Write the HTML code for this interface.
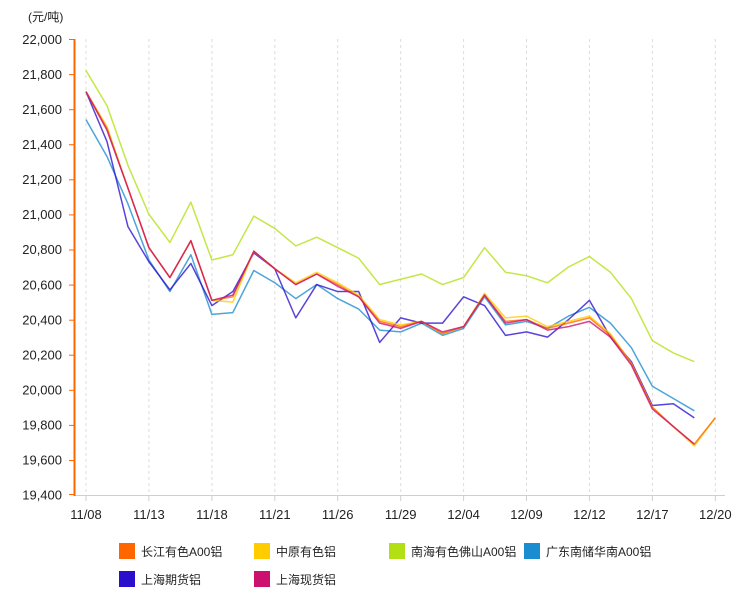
<!DOCTYPE html>
<html><head><meta charset="utf-8"><style>
html,body{margin:0;padding:0;background:#fff;}
svg{display:block;}
text{font-family:"Liberation Sans","Noto Sans CJK SC",sans-serif;fill:#222;}
</style></head><body>
<svg width="745" height="595" viewBox="0 0 745 595" xmlns="http://www.w3.org/2000/svg">
<text x="28" y="21" font-size="12">(元/吨)</text>
<g stroke="#dcdcdc" stroke-width="1" stroke-dasharray="3,3">
<line x1="86" y1="39" x2="86" y2="495"/><line x1="148.9" y1="39" x2="148.9" y2="495"/><line x1="211.9" y1="39" x2="211.9" y2="495"/><line x1="274.8" y1="39" x2="274.8" y2="495"/><line x1="337.7" y1="39" x2="337.7" y2="495"/><line x1="400.7" y1="39" x2="400.7" y2="495"/><line x1="463.6" y1="39" x2="463.6" y2="495"/><line x1="526.5" y1="39" x2="526.5" y2="495"/><line x1="589.4" y1="39" x2="589.4" y2="495"/><line x1="652.4" y1="39" x2="652.4" y2="495"/><line x1="715.3" y1="39" x2="715.3" y2="495"/>
</g>
<line x1="75" y1="495.5" x2="725" y2="495.5" stroke="#cfcfcf" stroke-width="1"/>
<g stroke="#cfcfcf" stroke-width="1">
<line x1="86" y1="495" x2="86" y2="501"/><line x1="148.9" y1="495" x2="148.9" y2="501"/><line x1="211.9" y1="495" x2="211.9" y2="501"/><line x1="274.8" y1="495" x2="274.8" y2="501"/><line x1="337.7" y1="495" x2="337.7" y2="501"/><line x1="400.7" y1="495" x2="400.7" y2="501"/><line x1="463.6" y1="495" x2="463.6" y2="501"/><line x1="526.5" y1="495" x2="526.5" y2="501"/><line x1="589.4" y1="495" x2="589.4" y2="501"/><line x1="652.4" y1="495" x2="652.4" y2="501"/><line x1="715.3" y1="495" x2="715.3" y2="501"/>
</g>
<line x1="74.5" y1="39" x2="74.5" y2="496" stroke="#ff6600" stroke-width="2"/>
<g stroke="#ff6600" stroke-width="1">
<line x1="69" y1="39.5" x2="74" y2="39.5"/><line x1="69" y1="74.6" x2="74" y2="74.6"/><line x1="69" y1="109.7" x2="74" y2="109.7"/><line x1="69" y1="144.7" x2="74" y2="144.7"/><line x1="69" y1="179.8" x2="74" y2="179.8"/><line x1="69" y1="214.9" x2="74" y2="214.9"/><line x1="69" y1="250" x2="74" y2="250"/><line x1="69" y1="285.1" x2="74" y2="285.1"/><line x1="69" y1="320.2" x2="74" y2="320.2"/><line x1="69" y1="355.2" x2="74" y2="355.2"/><line x1="69" y1="390.3" x2="74" y2="390.3"/><line x1="69" y1="425.4" x2="74" y2="425.4"/><line x1="69" y1="460.5" x2="74" y2="460.5"/><line x1="69" y1="494.5" x2="74" y2="494.5"/>
</g>
<g font-size="13" text-anchor="end">
<text x="62" y="44">22,000</text><text x="62" y="79">21,800</text><text x="62" y="114">21,600</text><text x="62" y="149">21,400</text><text x="62" y="184">21,200</text><text x="62" y="219">21,000</text><text x="62" y="254">20,800</text><text x="62" y="289.5">20,600</text><text x="62" y="324.5">20,400</text><text x="62" y="359.5">20,200</text><text x="62" y="394.5">20,000</text><text x="62" y="429.5">19,800</text><text x="62" y="464.5">19,600</text><text x="62" y="499.5">19,400</text>
</g>
<g font-size="13" text-anchor="middle">
<text x="86" y="519">11/08</text><text x="148.9" y="519">11/13</text><text x="211.9" y="519">11/18</text><text x="274.8" y="519">11/21</text><text x="337.7" y="519">11/26</text><text x="400.7" y="519">11/29</text><text x="463.6" y="519">12/04</text><text x="526.5" y="519">12/09</text><text x="589.4" y="519">12/12</text><text x="652.4" y="519">12/17</text><text x="715.3" y="519">12/20</text>
</g>
<g transform="translate(86,3897.47) scale(20.977,-0.175385)" fill="none" stroke-width="1.5" stroke-linejoin="round" stroke-opacity="0.78">
<polyline vector-effect="non-scaling-stroke" stroke="#b3e014" points="0,21820 1,21620 2,21280 3,21000 4,20840 5,21070 6,20740 7,20770 8,20990 9,20920 10,20820 11,20870 12,20810 13,20750 14,20600 15,20630 16,20660 17,20600 18,20640 19,20810 20,20670 21,20650 22,20610 23,20700 24,20760 25,20670 26,20520 27,20280 28,20210 29,20160"/>
<polyline vector-effect="non-scaling-stroke" stroke="#1a8cd0" points="0,21540 1,21330 2,21060 3,20740 4,20560 5,20770 6,20430 7,20440 8,20680 9,20610 10,20520 11,20600 12,20520 13,20460 14,20340 15,20330 16,20380 17,20310 18,20350 19,20530 20,20370 21,20390 22,20350 23,20420 24,20470 25,20380 26,20240 27,20020 28,19950 29,19880"/>
<polyline vector-effect="non-scaling-stroke" stroke="#2a10cc" points="0,21700 1,21415 2,20930 3,20730 4,20570 5,20720 6,20480 7,20560 8,20780 9,20690 10,20410 11,20600 12,20560 13,20560 14,20270 15,20410 16,20380 17,20380 18,20530 19,20480 20,20310 21,20330 22,20300 23,20400 24,20510 25,20300 26,20160 27,19910 28,19920 29,19840"/>
<polyline vector-effect="non-scaling-stroke" stroke="#ffcc00" points="0,21700 1,21500 2,21150 3,20810 4,20640 5,20850 6,20510 7,20500 8,20790 9,20690 10,20610 11,20670 12,20610 13,20540 14,20400 15,20370 16,20390 17,20320 18,20360 19,20550 20,20410 21,20420 22,20360 23,20390 24,20420 25,20320 26,20150 27,19900 28,19790 29,19680 30,19840"/>
<polyline vector-effect="non-scaling-stroke" stroke="#ff6600" points="0,21700 1,21490 2,21150 3,20810 4,20640 5,20850 6,20510 7,20530 8,20790 9,20690 10,20600 11,20660 12,20600 13,20530 14,20390 15,20360 16,20390 17,20320 18,20360 19,20540 20,20390 21,20400 22,20350 23,20380 24,20410 25,20310 26,20150 27,19900 28,19790 29,19690 30,19840"/>
<polyline vector-effect="non-scaling-stroke" stroke="#cc1070" points="0,21700 1,21480 2,21150 3,20810 4,20640 5,20850 6,20510 7,20540 8,20790 9,20690 10,20600 11,20660 12,20590 13,20530 14,20380 15,20350 16,20390 17,20330 18,20360 19,20540 20,20380 21,20400 22,20340 23,20360 24,20390 25,20300 26,20140 27,19890 28,19790 29,19690"/>
</g>
<g font-size="12">
<rect x="119" y="543" width="16" height="16" fill="#ff6600"/><text x="141" y="556">长江有色A00铝</text>
<rect x="254" y="543" width="16" height="16" fill="#ffcc00"/><text x="276" y="556">中原有色铝</text>
<rect x="389" y="543" width="16" height="16" fill="#b3e014"/><text x="411" y="556">南海有色佛山A00铝</text>
<rect x="524" y="543" width="16" height="16" fill="#1a8cd0"/><text x="546" y="556">广东南储华南A00铝</text>
<rect x="119" y="571" width="16" height="16" fill="#2a10cc"/><text x="141" y="584">上海期货铝</text>
<rect x="254" y="571" width="16" height="16" fill="#cc1070"/><text x="276" y="584">上海现货铝</text>
</g>
</svg>
</body></html>
